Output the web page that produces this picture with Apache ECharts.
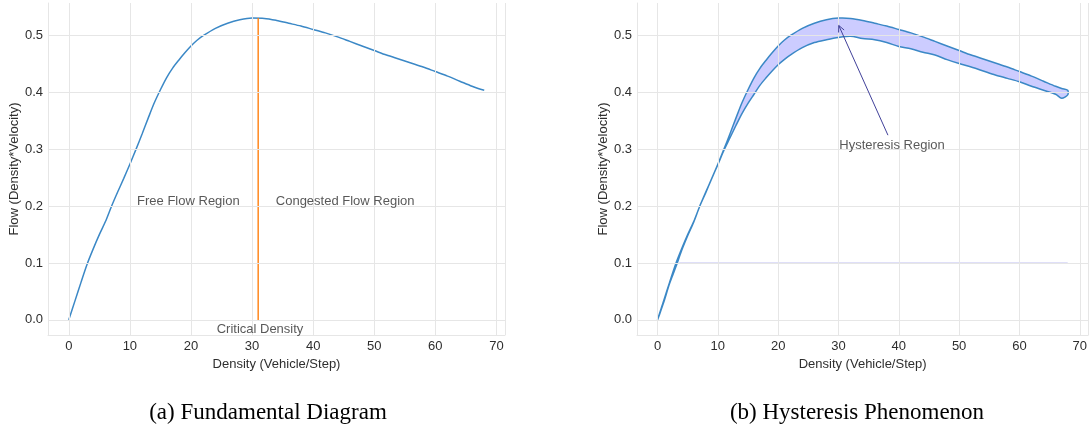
<!DOCTYPE html>
<html>
<head>
<meta charset="utf-8">
<script src="https://cdn.jsdelivr.net/npm/echarts@6/dist/echarts.min.js"></script>
<style>
  html, body { margin: 0; padding: 0; background: #fff; }
  #main { width: 1090px; height: 427px; }
</style>
</head>
<body>
<div id="main"></div>
<script>
// density (vehicle/step) and flow
const density  = [0, 1, 2, 3, 4, 5, 6, 7, 8, 9, 10, 11, 12, 13, 14, 15, 16, 17, 18, 19, 20, 21, 22, 24, 26, 28, 30, 32, 34, 36, 38, 40, 42, 44, 46, 48, 50, 52, 54, 56, 58, 60, 62, 64, 66, 67, 68];
const flowUp   = [0, 0.033, 0.066, 0.098, 0.125, 0.15, 0.173, 0.2, 0.225, 0.249, 0.274, 0.3, 0.327, 0.355, 0.382, 0.405, 0.426, 0.443, 0.457, 0.47, 0.482, 0.492, 0.5, 0.513, 0.522, 0.528, 0.531, 0.5305, 0.527, 0.522, 0.517, 0.511, 0.505, 0.498, 0.49, 0.482, 0.474, 0.466, 0.459, 0.452, 0.445, 0.437, 0.429, 0.42, 0.411, 0.407, 0.404];
const flowDown = [0, 0.03, 0.064, 0.092, 0.122, 0.148, 0.172, 0.2, 0.224, 0.249, 0.273, 0.298, 0.32, 0.342, 0.363, 0.381, 0.397, 0.413, 0.426, 0.438, 0.449, 0.458, 0.466, 0.479, 0.488, 0.493, 0.497, 0.499, 0.495, 0.493, 0.488, 0.481, 0.477, 0.471, 0.466, 0.458, 0.451, 0.445, 0.438, 0.431, 0.425, 0.419, 0.411, 0.404, 0.397, 0.39, 0.396];

const xTicks = [0, 10, 20, 30, 40, 50, 60, 70];
const yTicks = [0, 0.1, 0.2, 0.3, 0.4, 0.5];
const criticalDensity = 31;
const flatLine = [[3.6, 0.1], [68, 0.1]];

// annotations: [x, y] of the text anchor
const notesA = [
  { text: 'Free Flow Region', at: [11.1, 0.208], pos: 'right' },
  { text: 'Congested Flow Region', at: [33.8, 0.208], pos: 'right' },
  { text: 'Critical Density', at: [31.3, -0.0176], pos: 'inside' }
];
const notesB = [
  { text: 'Hysteresis Region', at: [30.05, 0.307], pos: 'right' }
];
const arrowFrom = [38.2, 0.325];
const arrowTo = [30.05, 0.518];

const xRange = [-3.4, 71.4];
const yRange = [-0.0266, 0.5576];

const blue = '#3b88c6';
const gridColor = '#e6e6e6';
const font = 'Liberation Sans';
const textColor = '#2e2e2e';

const chart = echarts.init(document.getElementById('main'));

function xAxisFor(i) {
  return {
    type: 'value', gridIndex: i, min: xRange[0], max: xRange[1],
    name: 'Density (Vehicle/Step)', nameLocation: 'middle', nameGap: 19,
    nameTextStyle: { color: textColor, fontSize: 13, fontFamily: font },
    axisLine: { show: true, onZero: false, lineStyle: { color: gridColor, width: 1 } },
    axisTick: { show: false },
    splitLine: { show: false },
    axisLabel: { customValues: xTicks, color: textColor, fontSize: 13, fontFamily: font, margin: 5 }
  };
}

function yAxisFor(i) {
  return {
    type: 'value', gridIndex: i, min: yRange[0], max: yRange[1],
    name: 'Flow (Density*Velocity)', nameLocation: 'middle', nameGap: 27,
    nameTextStyle: { color: textColor, fontSize: 13, fontFamily: font },
    axisLine: { show: true, onZero: false, lineStyle: { color: gridColor, width: 1 } },
    axisTick: { show: false },
    splitLine: { show: false },
    axisLabel: { customValues: yTicks, formatter: v => v.toFixed(1), color: textColor, fontSize: 13, fontFamily: font, margin: 5 }
  };
}

// grid lines at the tick values, plus the right frame edge
function gridSeries(i) {
  return {
    type: 'line', xAxisIndex: i, yAxisIndex: i, data: [], silent: true, z: 0,
    markLine: {
      silent: true, symbol: 'none', animation: false,
      label: { show: false },
      lineStyle: { color: gridColor, width: 1, type: 'solid' },
      emphasis: { disabled: true },
      data: xTicks.map(v => ({ xAxis: v }))
        .concat(yTicks.map(v => ({ yAxis: v })))
        .concat([{ xAxis: xRange[1] }])
    }
  };
}

function noteSeries(i, notes) {
  return {
    type: 'scatter', xAxisIndex: i, yAxisIndex: i, silent: true, z: 5,
    symbolSize: 1, itemStyle: { color: 'transparent' },
    data: notes.map(n => ({
      value: n.at,
      label: {
        show: true, formatter: n.text, position: n.pos, distance: 0,
        color: textColor, fontSize: 13, fontFamily: font
      }
    }))
  };
}

const option = {
  animation: false,
  backgroundColor: '#fff',
  grid: [
    { left: 48, top: 3, width: 457, height: 332 },
    { left: 637, top: 3, width: 457, height: 332 }
  ],
  xAxis: [xAxisFor(0), xAxisFor(1)],
  yAxis: [yAxisFor(0), yAxisFor(1)],
  graphic: [
    { type: 'text', style: { text: '(a) Fundamental Diagram', x: 268, y: 413, align: 'center', verticalAlign: 'middle', font: '23px "Liberation Serif"', fill: '#000' } },
    { type: 'text', style: { text: '(b) Hysteresis Phenomenon', x: 857, y: 413, align: 'center', verticalAlign: 'middle', font: '23px "Liberation Serif"', fill: '#000' } }
  ],
  series: [
    gridSeries(0),
    gridSeries(1),
    {
      // fundamental diagram
      type: 'line', xAxisIndex: 0, yAxisIndex: 0, z: 3,
      symbol: 'none', silent: true, smooth: 0.3,
      data: density.map((d, i) => [d, flowUp[i]]),
      lineStyle: { color: blue, width: 1.5 }
    },
    {
      // critical density marker
      type: 'line', xAxisIndex: 0, yAxisIndex: 0, z: 4,
      symbol: 'none', silent: true,
      data: [[criticalDensity, 0], [criticalDensity, Math.max(...flowUp)]],
      lineStyle: { color: '#ff7f0e', width: 1.4 }
    },
    noteSeries(0, notesA),
    {
      type: 'line', xAxisIndex: 1, yAxisIndex: 1, z: 2,
      symbol: 'none', silent: true,
      data: flatLine,
      lineStyle: { color: '#b8b8f0', width: 1 }
    },
    {
      // hysteresis band between the loading and unloading curves
      type: 'custom', xAxisIndex: 1, yAxisIndex: 1, z: 3, silent: true,
      data: density.map((d, i) => [d, flowUp[i], flowDown[i]]),
      encode: { x: 0, y: [1, 2] },
      renderItem: function (params, api) {
        if (params.dataIndex !== 0) return null;
        const top = [], bot = [];
        for (let i = 0; i < density.length; i++) {
          top.push(api.coord([api.value(0, i), api.value(1, i)]));
          bot.push(api.coord([api.value(0, i), api.value(2, i)]));
        }
        return {
          type: 'polygon',
          shape: { points: top.concat(bot.reverse().slice(0, -1)), smooth: 0.3 },
          style: { fill: '#ccccff', stroke: blue, lineWidth: 1.5, lineJoin: 'round' }
        };
      }
    },
    {
      type: 'custom', xAxisIndex: 1, yAxisIndex: 1, z: 5, silent: true,
      data: [arrowFrom.concat(arrowTo)],
      encode: { x: [0, 2], y: [1, 3] },
      renderItem: function (params, api) {
        const a = api.coord([api.value(0), api.value(1)]);
        const b = api.coord([api.value(2), api.value(3)]);
        const ang = Math.atan2(b[1] - a[1], b[0] - a[0]);
        const len = 7, spread = 0.45;
        const p1 = [b[0] - len * Math.cos(ang - spread), b[1] - len * Math.sin(ang - spread)];
        const p2 = [b[0] - len * Math.cos(ang + spread), b[1] - len * Math.sin(ang + spread)];
        const stroke = { stroke: '#41419a', lineWidth: 1, fill: null };
        return {
          type: 'group',
          children: [
            { type: 'line', shape: { x1: a[0], y1: a[1], x2: b[0], y2: b[1] }, style: stroke },
            { type: 'polyline', shape: { points: [p1, b, p2] }, style: stroke }
          ]
        };
      }
    },
    noteSeries(1, notesB)
  ]
};

chart.setOption(option);
</script>
</body>
</html>
